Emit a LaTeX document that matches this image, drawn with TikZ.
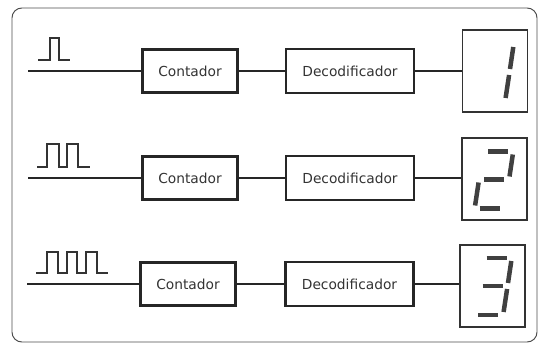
\documentclass[tikz,border=0pt]{standalone}
\usepackage{fontspec}
\setmainfont{DejaVu Sans}
\begin{document}
\begin{tikzpicture}[
		x=0.025cm, y=-0.025cm,
		wire/.style={black!85,line width=0.8pt},
		block/.style={draw=black!85,line width=1.5pt,fill=white,text=black!80,
			font=\fontsize{9.8}{11}\selectfont},
		counterbox/.style={block,minimum width=2.375cm,minimum height=1.075cm},
		decoderbox/.style={block,minimum width=3.2cm,minimum height=1.1cm},
		displaybox/.style={draw=black!80,line width=0.8pt,minimum width=1.625cm,
			minimum height=2.05cm},
		pulse/.style={black!80,line width=0.9pt},
		segment/.style={black!75,line width=3.2pt},
		frame/.style={black!70,line width=0.7pt,rounded corners=7pt},
	]
	\useasboundingbox (0,0) rectangle (541,346);
	\draw[frame] (12,8) rectangle (537,342);

	% ---------- one pulse: 1 ----------
	\begin{scope}[shift={(0,71)}]
		\coordinate (in1) at (28,0);
		\draw[pulse] (38,-11) -- (50,-11) -- (50,-33) -- (59,-33) -- (59,-11) -- (70,-11);
		\node[counterbox] (cont1) at (190,0) {Contador};
		\node[decoderbox] (dec1) at (350,0) {Decodificador};
		\node[displaybox] (disp1) at (495,0) {};
		\draw[wire] (in1) -- (cont1) -- (dec1) -- (disp1.west |- dec1);
		\draw[segment] (513.3,-24) -- (510,-2);
		\draw[segment] (509.1,4) -- (505.6,27);
	\end{scope}

	% ---------- two pulses: 2 ----------
	\begin{scope}[shift={(0,178)}]
		\coordinate (in2) at (28,0);
		\draw[pulse] (37,-11) -- (47,-11) -- (47,-34) -- (59,-34) -- (59,-11)
			-- (67,-11) -- (67,-34) -- (78,-34) -- (78,-11) -- (90,-11);
		\node[counterbox] (cont2) at (190,0) {Contador};
		\node[decoderbox] (dec2) at (350,0) {Decodificador};
		\node[displaybox] (disp2) at (494.5,1) {};
		\draw[wire] (in2) -- (cont2) -- (dec2) -- (disp2.west |- dec2);
		\draw[segment] (488.2,-26.5) -- (508.2,-26.5);
		\draw[segment] (512.8,-23.5) -- (509.5,-1.5);
		\draw[segment] (484,1.5) -- (504,1.5);
		\draw[segment] (478.6,4.5) -- (475.1,27.5);
		\draw[segment] (479.7,30.5) -- (499.7,30.5);
	\end{scope}

	% ---------- three pulses: 3 ----------
	\begin{scope}[shift={(0,284)}]
		\coordinate (in3) at (27,0);
		\draw[pulse] (36,-11) -- (47,-11) -- (47,-32) -- (58,-32) -- (58,-11)
			-- (67,-11) -- (67,-32) -- (77,-32) -- (77,-11)
			-- (86,-11) -- (86,-32) -- (97,-32) -- (97,-11) -- (108,-11);
		\node[counterbox] (cont3) at (188,0) {Contador};
		\node[decoderbox] (dec3) at (349.5,0) {Decodificador};
		\node[displaybox] (disp3) at (492.5,2) {};
		\draw[wire] (in3) -- (cont3) -- (dec3) -- (disp3.west |- dec3);
		\draw[segment] (486.7,-26) -- (506.7,-26);
		\draw[segment] (511.3,-23) -- (508,-1);
		\draw[segment] (482.5,2) -- (502.5,2);
		\draw[segment] (507.1,5) -- (503.6,28);
		\draw[segment] (478.2,31) -- (498.2,31);
	\end{scope}

\end{tikzpicture}
\end{document}
